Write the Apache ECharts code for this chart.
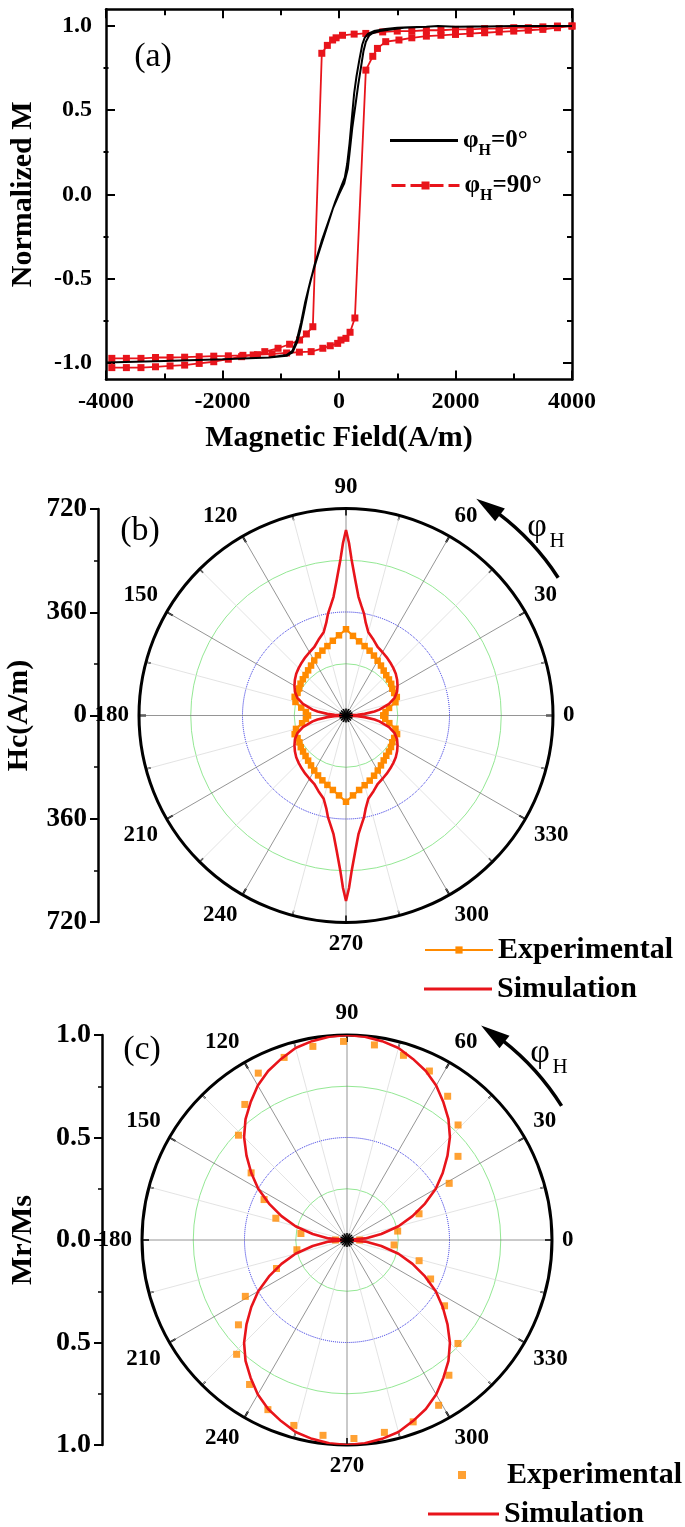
<!DOCTYPE html>
<html><head><meta charset="utf-8">
<script src="https://cdn.jsdelivr.net/npm/echarts@6/dist/echarts.min.js"></script>
<style>html,body{margin:0;padding:0;background:#fff}#c{width:685px;height:1527px}</style>
</head><body><div id="c"></div>
<script>
// ===== Panel (a): hysteresis loops  [H (A/m), normalized M] =====
const loop0Down = [[4000,1.0],[3000,1.0],[2500,0.997],[2000,0.995],[1700,1.0],[1500,0.995],[1200,0.993],[1000,0.99],[800,0.982],[600,0.97],[500,0.955],[440,0.93],[400,0.89],[350,0.8],[300,0.7],[260,0.6],[220,0.45],[180,0.3],[140,0.18],[100,0.1],[30,0.04],[-60,-0.04],[-180,-0.16],[-300,-0.28],[-420,-0.42],[-520,-0.56],[-600,-0.7],[-660,-0.8],[-720,-0.88],[-800,-0.94],[-900,-0.96],[-1200,-0.97],[-2000,-0.98],[-3000,-0.99],[-4000,-1.0]];
const loop0Up = [[-4000,-1.0],[-3000,-0.99],[-2000,-0.98],[-1200,-0.97],[-900,-0.955],[-800,-0.93],[-720,-0.86],[-650,-0.76],[-580,-0.64],[-480,-0.5],[-360,-0.36],[-230,-0.22],[-100,-0.08],[0,0.0],[90,0.065],[150,0.15],[180,0.24],[230,0.4],[290,0.55],[330,0.65],[375,0.75],[420,0.85],[461,0.907],[520,0.945],[575,0.957],[700,0.97],[830,0.976],[1114,0.99],[1500,0.995],[1700,1.0],[2000,0.995],[3000,1.0],[4000,1.0]];
const loop90Down = [[4000,1.0],[3750,1.0],[3500,0.995],[3250,0.99],[3000,0.99],[2750,0.985],[2500,0.985],[2250,0.98],[2000,0.98],[1750,0.975],[1500,0.975],[1250,0.97],[1000,0.97],[750,0.965],[460,0.956],[260,0.952],[60,0.945],[-50,0.93],[-110,0.917],[-200,0.885],[-295,0.838],[-449,-0.787],[-560,-0.83],[-677,-0.866],[-848,-0.891],[-1046,-0.915],[-1274,-0.935],[-1473,-0.955],[-1672,-0.965],[-1900,-0.98],[-2150,-0.995],[-2400,-1.005],[-2650,-1.015],[-2900,-1.02],[-3150,-1.025],[-3400,-1.03],[-3650,-1.03],[-3900,-1.03]];
const loop90Up = [[-3900,-0.975],[-3650,-0.975],[-3400,-0.975],[-3150,-0.97],[-2900,-0.97],[-2650,-0.968],[-2400,-0.965],[-2150,-0.962],[-1900,-0.96],[-1650,-0.957],[-1400,-0.953],[-1150,-0.948],[-900,-0.943],[-680,-0.938],[-478,-0.935],[-278,-0.915],[-150,-0.9],[-23,-0.886],[34,-0.866],[119,-0.856],[190,-0.82],[273,-0.735],[461,0.738],[580,0.82],[660,0.867],[802,0.907],[1029,0.917],[1250,0.93],[1500,0.94],[1750,0.945],[2000,0.95],[2250,0.955],[2500,0.96],[2750,0.965],[3000,0.97],[3250,0.975],[3500,0.98],[3750,0.99],[4000,1.0]];
const yTicksA = [-1.0,-0.5,0.0,0.5,1.0];
const yMinorA = [-0.75,-0.25,0.25,0.75];

// ===== Panel (b): coercivity Hc (A/m) vs field angle (deg) =====
const hcExpAngle = [0,5,10,15,20,25,30,35,40,45,50,55,60,65,70,75,80,85,90,95,100,105,110,115,120,125,130,135,140,145,150,155,160,165,170,175,180,185,190,195,200,205,210,215,220,225,230,235,240,245,250,255,260,265,270,275,280,285,290,295,300,305,310,315,320,325,330,335,340,345,350,355,360];
const hcExpValue = [130,138,152,178,188,185,186,192,195,198,204,212,220,230,240,250,262,278,300,280,264,250,240,231,221,212,205,199,196,193,188,186,190,182,158,140,132,140,155,180,190,186,187,192,195,199,205,212,221,230,240,250,263,279,300,279,263,251,241,231,221,212,204,198,195,191,186,185,189,178,153,137,130];
const hcSimAngle = [0,3,5,8,10,15,20,25,30,35,40,45,50,55,60,65,70,75,78,80,82,84,86,88,89,90,91,92,94,96,98,100,102,105,110,115,120,125,130,135,140,145,150,155,160,165,170,172,175,177,180];
const hcSimValue = [0,40,65,100,118,155,180,196,207,217,226,233,240,247,254,262,280,300,330,360,385,415,470,545,600,645,600,545,470,415,385,360,330,300,280,262,254,247,240,233,226,217,207,196,180,155,118,100,65,40,0];

// ===== Panel (c): Mr/Ms vs field angle (deg) =====
const mrExpAngle = [0,10,20,29,37,46,55,64,73,82,91,100,109,118,127,136,145,154,163,172,180,191,202,209,218,226,236,245,254,263,272,281,290,299,307,317,326,335,344,354];
const mrExpValue = [0.062,0.251,0.374,0.57,0.678,0.78,0.856,0.917,0.942,0.961,0.969,0.959,0.942,0.922,0.828,0.736,0.571,0.45,0.363,0.227,0.056,0.249,0.371,0.567,0.672,0.775,0.85,0.913,0.941,0.96,0.969,0.956,0.944,0.922,0.826,0.74,0.574,0.45,0.366,0.231];
const mrSimAngle = [0,5,10,15,20,25,30,35,40,45,50,55,60,65,70,75,80,85,90,95,100,105,110,115,120,125,130,135,140,145,150,155,160,165,170,175,180];
const mrSimValue = [0,0.09,0.17,0.26,0.34,0.42,0.5,0.57,0.64,0.71,0.77,0.82,0.87,0.91,0.94,0.97,0.985,0.995,1.0,0.995,0.985,0.97,0.94,0.91,0.87,0.82,0.77,0.71,0.64,0.57,0.5,0.42,0.34,0.26,0.17,0.09,0];

// ---------------- build ----------------
const F = '"Liberation Serif","Times New Roman",serif';
const ORANGE = '#FF8A00', RED = '#E8141B';
const pair = (a, v) => a.map((ang, i) => [v[i], ang]);
const halfTwice = (a, v) => pair(a, v).concat(pair(a.map(x => x + 180), v));

const hcExp = pair(hcExpAngle, hcExpValue);
const hcSim = halfTwice(hcSimAngle, hcSimValue);
const mrExp = pair(mrExpAngle, mrExpValue);
const mrSim = halfTwice(mrSimAngle, mrSimValue);

const PB = {cx: 346, cy: 715.5, r: 207};
const PC = {cx: 347, cy: 1240, r: 205};

const boldTxt = (s) => ({fontFamily: F, fontWeight: 'bold', fontSize: s, color: '#000'});

function frameX(pos, showLabel) {
  return {
    gridIndex: 0, type: 'value', min: -4000, max: 4000, interval: 2000, position: pos,
    axisLine: {onZero: false, lineStyle: {color: '#000', width: 2.5}},
    axisTick: {inside: true, length: 9, lineStyle: {color: '#000', width: 2}},
    minorTick: {show: true, splitNumber: 2, length: 6, lineStyle: {color: '#000', width: 2}},
    axisLabel: Object.assign({show: showLabel, margin: 10, formatter: v => String(v)}, boldTxt(24)),
    splitLine: {show: false},
    name: showLabel ? 'Magnetic Field(A/m)' : '', nameLocation: 'middle', nameGap: 44,
    nameTextStyle: boldTxt(30)
  };
}
function frameY(pos, showLabel) {
  return {
    gridIndex: 0, type: 'value', min: -1.1, max: 1.1, position: pos,
    axisLine: {onZero: false, lineStyle: {color: '#000', width: 2.5}},
    axisTick: {inside: true, length: 9, customValues: yTicksA, lineStyle: {color: '#000', width: 2}},
    axisLabel: Object.assign({show: showLabel, margin: 14, customValues: yTicksA, formatter: v => v.toFixed(1)}, boldTxt(24)),
    splitLine: {show: false},
    name: showLabel ? 'Normalized M' : '', nameLocation: 'middle', nameGap: 68, nameRotate: 90,
    nameTextStyle: boldTxt(30)
  };
}
function minorY(pos) {
  return {
    gridIndex: 1, type: 'value', min: -1.1, max: 1.1, position: pos,
    axisLine: {show: false},
    axisTick: {inside: true, length: 5, customValues: yMinorA, lineStyle: {color: '#000', width: 2}},
    axisLabel: {show: false}, splitLine: {show: false}
  };
}
function sideY(gi, max, interval, fmt, name, fs) {
  return {
    gridIndex: gi, type: 'value', min: -max, max: max, interval: interval, position: 'left',
    axisLine: {lineStyle: {color: '#000', width: 2.5}},
    axisTick: {length: 8, lineStyle: {color: '#000', width: 2}},
    minorTick: {show: true, splitNumber: 2, length: 4, lineStyle: {color: '#000', width: 1.5}},
    axisLabel: Object.assign({margin: 11, formatter: fmt}, boldTxt(fs)),
    splitLine: {show: false},
    name: name, nameLocation: 'middle', nameGap: 64, nameRotate: 90, nameTextStyle: boldTxt(30)
  };
}
function hiddenX(gi) {
  return {gridIndex: gi, type: 'value', min: 0, max: 1, show: false};
}
function angleMain(pi) {
  return {
    polarIndex: pi, type: 'value', min: 0, max: 360, interval: 30, startAngle: 0, clockwise: false,
    axisLine: {lineStyle: {color: '#000', width: 3}},
    axisTick: {inside: true, length: 7, lineStyle: {color: '#000', width: 2}},
    minorTick: {show: true, splitNumber: 2, length: 5, lineStyle: {color: '#000', width: 1.5}},
    axisLabel: Object.assign({margin: 10, formatter: v => (v === 360 ? '' : String(v))}, boldTxt(23)),
    splitLine: {show: true, lineStyle: {color: '#7a7a7a', width: 0.8}},
    minorSplitLine: {show: true, lineStyle: {color: '#dcdcdc', width: 0.8}}
  };
}
function angleHidden(pi) {
  return {polarIndex: pi, type: 'value', min: 0, max: 360, startAngle: 0, clockwise: false, show: false};
}
const T = 'rgba(0,0,0,0)';
function radiusGreen(pi, max) {
  return {
    polarIndex: pi, type: 'value', min: 0, max: max, interval: max / 4,
    axisLine: {show: false}, axisTick: {show: false}, axisLabel: {show: false},
    splitLine: {show: true, lineStyle: {color: [T, '#94e894', T, '#94e894', T], width: 1}}
  };
}
function radiusBlue(pi, max) {
  return {
    polarIndex: pi, type: 'value', min: 0, max: max, interval: max / 2,
    axisLine: {show: false}, axisTick: {show: false}, axisLabel: {show: false},
    splitLine: {show: true, lineStyle: {color: [T, '#2626e0', T], width: 1, type: 'dotted'}}
  };
}

function deg(a) { return a * Math.PI / 180; }
function arrow(P, R, a0, a1, tip) {
  const pt = (a, r) => [P.cx + r * Math.cos(deg(a)), P.cy - r * Math.sin(deg(a))];
  const base = tip - 6.5;
  return [
    {type: 'arc', shape: {cx: P.cx, cy: P.cy, r: R, startAngle: -deg(a1), endAngle: -deg(a0), clockwise: true},
     style: {stroke: '#000', lineWidth: 3.5, fill: null}, z: 10},
    {type: 'polygon', shape: {points: [pt(tip, R), pt(base, R + 8), pt(base, R - 8)]},
     style: {fill: '#000'}, z: 10}
  ];
}
function centerStar(P) {
  const out = [];
  for (let a = 0; a < 180; a += 22.5) {
    const dx = 7 * Math.cos(deg(a)), dy = 7 * Math.sin(deg(a));
    out.push({type: 'line', shape: {x1: P.cx - dx, y1: P.cy - dy, x2: P.cx + dx, y2: P.cy + dy},
      style: {stroke: '#000', lineWidth: 1.6}, z: 9});
  }
  return out;
}
function phiLabel(x, y) {
  return [
    {type: 'text', x: x, y: y, style: {text: 'φ', font: '34px ' + F, fill: '#000', textVerticalAlign: 'middle', textAlign: 'center'}, z: 10},
    {type: 'text', x: x + 20, y: y + 14, style: {text: 'H', font: '21px ' + F, fill: '#000', textVerticalAlign: 'middle', textAlign: 'center'}, z: 10}
  ];
}
function panelTag(t, x, y) {
  return {type: 'text', x: x, y: y, style: {text: t, font: '34px ' + F, fill: '#000', textAlign: 'center', textVerticalAlign: 'middle'}, z: 10};
}

const legendRich = {
  p: {fontFamily: F, fontWeight: 'bold', fontSize: 25, color: '#000', lineHeight: 36},
  s: {fontFamily: F, fontWeight: 'bold', fontSize: 16, color: '#000', lineHeight: 14, verticalAlign: 'bottom'}
};
const legendNames = {'φH=0°': '{p|φ}{s|H}{p|=0°}', 'φH=90°': '{p|φ}{s|H}{p|=90°}'};

const option = {
  animation: false,
  backgroundColor: '#fff',
  grid: [
    {left: 103.5, top: 9.2, width: 468.5, height: 370.2},
    {left: 103.5, top: 9.2, width: 468.5, height: 370.2},
    {left: 98, top: 509, width: 1, height: 413},
    {left: 102, top: 1035, width: 1, height: 410}
  ],
  xAxis: [frameX('bottom', true), frameX('top', false), hiddenX(1), hiddenX(2), hiddenX(3)],
  yAxis: [
    frameY('left', true), frameY('right', false), minorY('left'), minorY('right'),
    sideY(2, 720, 360, v => String(Math.abs(v)), 'Hc(A/m)', 27),
    sideY(3, 1, 0.5, v => Math.abs(v).toFixed(1), 'Mr/Ms', 28)
  ],
  polar: [
    {center: [PB.cx, PB.cy], radius: PB.r},
    {center: [PB.cx, PB.cy], radius: PB.r},
    {center: [PC.cx, PC.cy], radius: PC.r},
    {center: [PC.cx, PC.cy], radius: PC.r}
  ],
  angleAxis: [angleMain(0), angleHidden(1), angleMain(2), angleHidden(3)],
  radiusAxis: [radiusGreen(0, 720), radiusBlue(1, 720), radiusGreen(2, 1), radiusBlue(3, 1)],
  legend: [
    {left: 390, top: 128, itemWidth: 68, itemHeight: 3, padding: 0, selectedMode: false,
     data: [{name: 'φH=0°', icon: 'rect'}],
     formatter: n => legendNames[n], textStyle: {rich: legendRich}},
    {left: 390, top: 173, itemWidth: 68, itemHeight: 10, padding: 0, selectedMode: false,
     data: [{name: 'φH=90°', lineStyle: {width: 3, type: [14, 5]}}],
     formatter: n => legendNames[n], textStyle: {rich: legendRich}},
    {left: 424, top: 935, itemWidth: 68, itemHeight: 9, padding: 0, selectedMode: false,
     data: ['Experimental'], textStyle: boldTxt(30)},
    {left: 424, top: 974, itemWidth: 68, itemHeight: 3, padding: 0, selectedMode: false,
     data: [{name: 'Simulation', icon: 'rect'}], textStyle: boldTxt(30)},
    {left: 458, top: 1460, itemWidth: 8, itemHeight: 8, padding: 0, selectedMode: false,
     data: ['Experimental '], textStyle: Object.assign({padding: [0, 0, 0, 36]}, boldTxt(30))},
    {left: 428, top: 1499, itemWidth: 71, itemHeight: 3, padding: 0, selectedMode: false,
     data: [{name: 'Simulation ', icon: 'rect'}], textStyle: boldTxt(30)}
  ],
  graphic: [
    panelTag('(a)', 153, 57), panelTag('(b)', 140, 531), panelTag('(c)', 142, 1050),
    ...arrow(PB, 253, 33, 53, 59), ...phiLabel(537, 527),
    ...arrow(PC, 253, 32, 52, 58), ...phiLabel(540, 1053),
    ...centerStar(PB), ...centerStar(PC)
  ],
  series: [
    {type: 'line', name: 'φH=90°', xAxisIndex: 0, yAxisIndex: 0, data: loop90Down.concat(loop90Up),
     symbol: 'rect', symbolSize: 7, showAllSymbol: true, color: RED,
     lineStyle: {color: RED, width: 1.8}, itemStyle: {color: RED}, z: 2},
    {type: 'line', name: 'φH=0°', xAxisIndex: 0, yAxisIndex: 0, data: loop0Down.concat(loop0Up),
     symbol: 'none', color: '#000', lineStyle: {color: '#000', width: 2}, z: 3},
    {type: 'line', name: 'Experimental', coordinateSystem: 'polar', polarIndex: 0, data: hcExp,
     symbol: 'rect', symbolSize: 6.5, color: ORANGE, lineStyle: {color: ORANGE, width: 2},
     itemStyle: {color: ORANGE}, z: 3},
    {type: 'line', name: 'Simulation', coordinateSystem: 'polar', polarIndex: 0, data: hcSim,
     symbol: 'none', color: RED, lineStyle: {color: RED, width: 2.6}, z: 4},
    {type: 'scatter', name: 'Experimental ', coordinateSystem: 'polar', polarIndex: 2, data: mrExp,
     symbol: 'rect', symbolSize: 7, color: ORANGE, itemStyle: {color: ORANGE}, z: 3},
    {type: 'line', name: 'Simulation ', coordinateSystem: 'polar', polarIndex: 2, data: mrSim,
     symbol: 'none', color: RED, lineStyle: {color: RED, width: 2.6}, z: 4}
  ]
};

const chart = echarts.init(document.getElementById('c'), null, {renderer: 'canvas'});
chart.setOption(option);
</script>
</body></html>
